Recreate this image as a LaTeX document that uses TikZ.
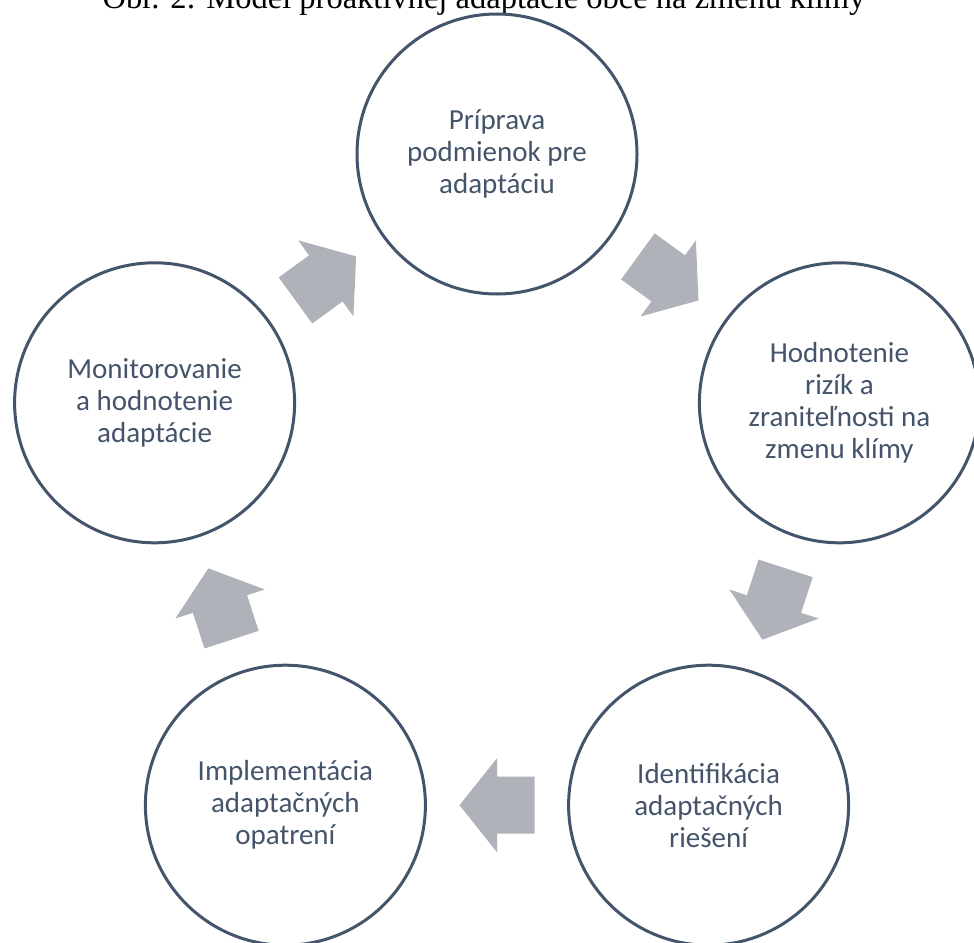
\documentclass[tikz,border=0pt]{standalone}
\usepackage{fontspec}
\setmainfont{Carlito}
\newfontfamily\titlefont{Liberation Serif}
\usetikzlibrary{calc}
\definecolor{txtcol}{RGB}{68,84,106}
\definecolor{arrcol}{RGB}{175,178,185}
\tikzset{
  stage/.style={circle, draw=txtcol, line width=3pt, fill=white, minimum size=280pt,
    inner sep=0pt, align=center, text=txtcol, font=\fontsize{29}{32}\selectfont},
  blockarrow/.style={fill=arrcol, draw=none}
}
\begin{document}
\begin{tikzpicture}[x=1pt,y=-1pt]
\useasboundingbox (0,0) rectangle (974,942);
\node[anchor=base, font=\titlefont\fontsize{32.5}{36}\selectfont] (title) at (484,8.5)
  {Obr. 2: Model proaktívnej adaptácie obce na zmenu klímy};
\node[stage] (top) at (497,154) {Príprava\\podmienok pre\\adaptáciu};
\node[stage] (right) at (839.4,402.8) {Hodnotenie\\rizík a\\zraniteľnosti na\\zmenu klímy};
\node[stage] (br) at (708.6,805.2) {Identifikácia\\adaptačných\\riešení};
\node[stage] (bl) at (285.4,805.2) {Implementácia\\adaptačných\\opatrení};
\node[stage] (left) at (154.6,402.8) {Monitorovanie\\a hodnotenie\\adaptácie};
\foreach \a/\b/\ang in {top/right/-36, right/br/-108, br/bl/180, bl/left/108, left/top/36} {
  \begin{scope}[shift={($(\a.center)!0.5!(\b.center)$)}, rotate=\ang]
    \fill[blockarrow] (-37.5,-28.5) -- (0,-28.5) -- (0,-47) -- (37.5,0) -- (0,47) -- (0,28.5) -- (-37.5,28.5) -- cycle;
  \end{scope}
}
\end{tikzpicture}
\end{document}
